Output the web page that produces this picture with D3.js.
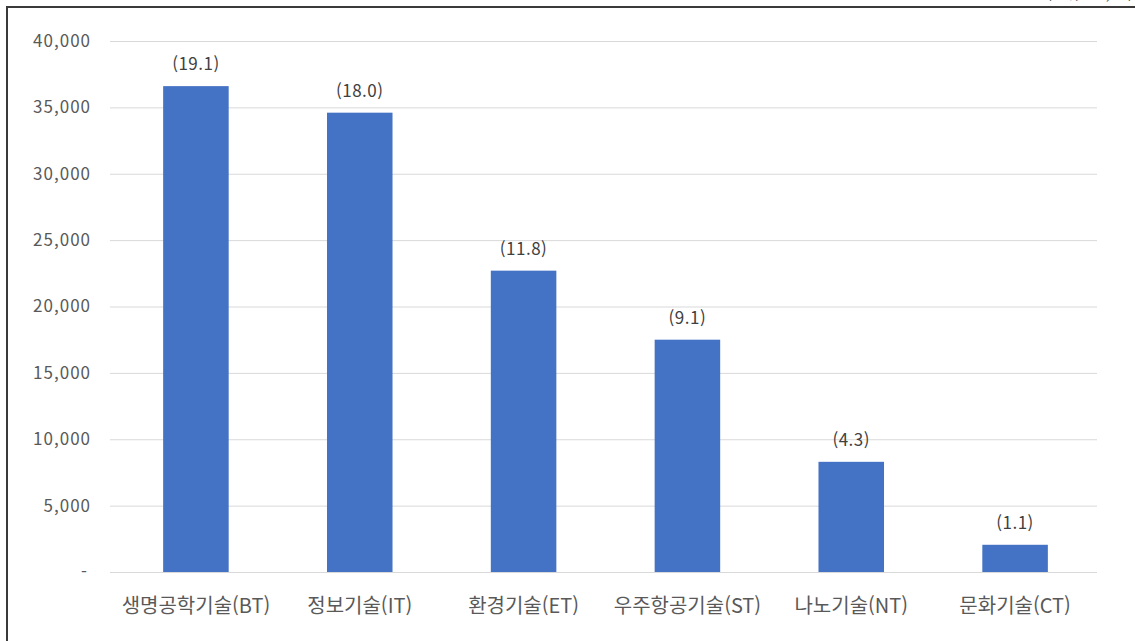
<!DOCTYPE html>
<html lang="ko">
<head>
<meta charset="utf-8">
<script src="https://cdn.jsdelivr.net/npm/d3@7/dist/d3.min.js"></script>
<style>
  html, body { margin: 0; padding: 0; background: #fff; }
  svg { display: block; }
  text { font-family: "Noto Sans CJK KR", "Noto Sans", sans-serif; }
</style>
</head>
<body>
<svg id="chart" width="1135" height="641"></svg>
<script>
// 분야별 값과 비중(%)
const categories = ["생명공학기술(BT)", "정보기술(IT)", "환경기술(ET)", "우주항공기술(ST)", "나노기술(NT)", "문화기술(CT)"];
const values = [36600, 34600, 22700, 17500, 8300, 2050];
const shares = ["19.1", "18.0", "11.8", "9.1", "4.3", "1.1"];
const yTicks = [0, 5000, 10000, 15000, 20000, 25000, 30000, 35000, 40000];
const unitLabel = "(단위 : 건, %)";

const svg = d3.select("#chart");
const W = 1135, H = 641;
const plot = { left: 114, right: 1097, top: 41, bottom: 572 };

// 외곽 테두리 (위, 왼쪽)
svg.append("path")
  .attr("d", `M7,${H} L7,7 L${W},7`)
  .attr("fill", "none")
  .attr("stroke", "#3a3a3a")
  .attr("stroke-width", 2);

// 단위 표기 (상단 경계 위)
svg.append("text")
  .attr("x", 1133).attr("y", -1)
  .attr("text-anchor", "end")
  .attr("font-size", 15)
  .attr("fill", "#404040")
  .text(unitLabel);

const x = d3.scaleBand()
  .domain(categories)
  .range([plot.left, plot.right])
  .paddingInner(0.6)
  .paddingOuter(0.3);

const y = d3.scaleLinear()
  .domain([0, 40000])
  .range([plot.bottom, plot.top]);

// 눈금선
const yAxis = d3.axisLeft(y)
  .tickValues(yTicks)
  .tickSize(-(plot.right - 110))
  .tickPadding(19)
  .tickFormat(d => d === 0 ? "-" : d3.format(",")(d));

const gy = svg.append("g")
  .attr("transform", `translate(110,0)`)
  .call(yAxis);
gy.select(".domain").remove();
gy.selectAll(".tick line").attr("stroke", "#d9d9d9").attr("stroke-width", 1);
gy.selectAll(".tick text")
  .attr("fill", "#595959")
  .attr("font-size", 17)
  .attr("letter-spacing", 1)
  .attr("dx", d => d === 0 ? -3 : 0);

// 막대
svg.append("g")
  .selectAll("rect")
  .data(categories)
  .join("rect")
  .attr("x", d => x(d))
  .attr("y", (d, i) => y(values[i]))
  .attr("width", x.bandwidth())
  .attr("height", (d, i) => y(0) - y(values[i]))
  .attr("fill", "#4472C4");

// 비중 레이블
svg.append("g")
  .selectAll("text")
  .data(categories)
  .join("text")
  .attr("x", d => x(d) + x.bandwidth() / 2)
  .attr("y", (d, i) => y(values[i]) - 16)
  .attr("text-anchor", "middle")
  .attr("font-size", 17)
  .attr("letter-spacing", 0.5)
  .attr("fill", "#404040")
  .text((d, i) => `(${shares[i]})`);

// 항목 축
const xAxis = d3.axisBottom(x).tickSize(0).tickPadding(26);
const gx = svg.append("g")
  .attr("transform", `translate(0,${plot.bottom})`)
  .call(xAxis);
gx.select(".domain").remove();
gx.selectAll(".tick text")
  .attr("fill", "#595959")
  .attr("font-size", 20)
  .attr("dy", "0.35em")
  .attr("y", 34);
</script>
</body>
</html>
